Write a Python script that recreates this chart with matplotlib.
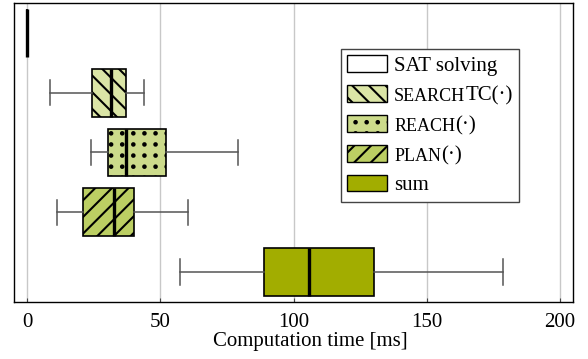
import numpy as np
import matplotlib
matplotlib.use("Agg")
import matplotlib.pyplot as plt
import matplotlib.hatch as mhatch
from matplotlib.path import Path
from matplotlib.patches import Patch
from matplotlib.offsetbox import HPacker, TextArea

# Box statistics per stage (ms)
labels = ["SAT solving", "searchTC", "reach", "plan", "sum"]
whislo = [0.0, 8.6, 24.1, 11.0, 57.2]
q1 = [0.0, 24.4, 30.2, 20.9, 88.8]
med = [0.0, 31.4, 37.0, 32.5, 105.7]
q3 = [0.0, 37.2, 52.2, 40.2, 130.1]
whishi = [0.0, 43.7, 79.2, 60.2, 178.7]

colors = ["white", "#dbe5a6", "#ccdb8b", "#bccf63", "#a2ad00"]
hatches = [None, "\\\\", ".", "//", None]


# aligned grid of dots instead of the staggered default for '.'
class GridDots(mhatch.HatchPatternBase):
    def __init__(self, hatch, density):
        self.n = int(hatch.count(".") * density * 1.5)
        circle = Path.unit_circle()
        self.shape_vertices = circle.vertices
        self.shape_codes = circle.codes
        self.num_vertices = (self.n + 1) ** 2 * len(circle.vertices) if self.n else 0

    def set_vertices_and_codes(self, vertices, codes):
        step = 1.0 / self.n
        shape = self.shape_vertices * step * 0.11
        nv = len(shape)
        cur = 0
        for i in range(self.n + 1):
            for j in range(self.n + 1):
                vertices[cur:cur + nv] = shape + (i * step, j * step)
                codes[cur:cur + nv] = self.shape_codes
                cur += nv


mhatch._hatch_types = [h for h in mhatch._hatch_types
                       if h is not mhatch.SmallFilledCircles] + [GridDots]

plt.rcParams["font.family"] = ["Liberation Serif", "DejaVu Serif"]
plt.rcParams["font.size"] = 15
plt.rcParams["hatch.linewidth"] = 1.5
plt.rcParams["hatch.color"] = "black"

fig = plt.figure(figsize=(5.88, 3.59), dpi=100)
ax = fig.add_axes([0.0238, 0.159, 0.9507, 0.8326])

stats = []
for i in range(len(labels)):
    stats.append(dict(label=labels[i], whislo=whislo[i], q1=q1[i], med=med[i],
                      q3=q3[i], whishi=whishi[i], fliers=[]))

positions = np.arange(1, len(labels) + 1)
bp = ax.bxp(stats, positions=positions, widths=0.8, orientation="horizontal",
            patch_artist=True, showfliers=False, capwidths=0.42,
            boxprops=dict(edgecolor="#222222", linewidth=1.2),
            medianprops=dict(color="black", linewidth=2.4),
            whiskerprops=dict(color="#555555", linewidth=1.1),
            capprops=dict(color="#555555", linewidth=1.1))

for box, c, h in zip(bp["boxes"], colors, hatches):
    box.set_facecolor(c)
    box.set_edgecolor("black")
    if h:
        box.set_hatch(h)
    box.set_zorder(2)
for m in bp["medians"]:
    m.set_zorder(3)

ax.set_xlim(-5, 205)
ax.set_ylim(5.5, 0.5)
ax.set_xticks([0, 50, 100, 150, 200])
ax.set_yticks([])
ax.xaxis.grid(True, color="#c8c8c8", linewidth=1.0)
ax.set_axisbelow(True)
ax.tick_params(axis="x", direction="in", length=3, color="#444444", pad=8)
for s in ax.spines.values():
    s.set_linewidth(1.0)
    s.set_color("black")

ax.set_xlabel("Computation time [ms]", labelpad=1)
ax.xaxis.set_label_coords(0.53, -0.1)

# legend, with small-caps names for the procedures
handles = [Patch(facecolor=c, edgecolor="black", hatch=h, linewidth=1.0)
           for c, h in zip(colors, hatches)]
leg_labels = ["SAT solving", "SEARCHTC(·)", "REACH(·)", "PLAN(·)", "sum"]
leg = ax.legend(handles, leg_labels, loc="upper right",
                bbox_to_anchor=(0.903, 0.846), fancybox=False, framealpha=1,
                edgecolor="#444444", handlelength=1.9, handleheight=0.85,
                labelspacing=0.45, handletextpad=0.35, borderpad=0.3,
                borderaxespad=0)
leg.get_frame().set_linewidth(1.0)

small = [None, ("search", "TC(·)"), ("reach", "(·)"), ("plan", "(·)"), None]
rows = leg._legend_handle_box.get_children()[0].get_children()
for row, sc in zip(rows, small):
    if sc is None:
        continue
    parts = HPacker(children=[
        TextArea(sc[0].upper(), textprops=dict(fontsize=13)),
        TextArea(sc[1], textprops=dict(fontsize=15)),
    ], pad=0, sep=0, align="baseline")
    parts.set_figure(fig)
    row._children[1] = parts

fig.savefig("out.png", dpi=100)
